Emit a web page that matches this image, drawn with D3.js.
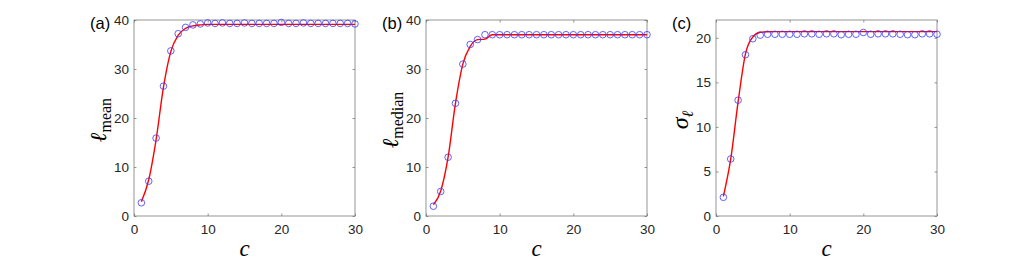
<!DOCTYPE html>
<html><head><meta charset="utf-8">
<script src="https://cdn.jsdelivr.net/npm/d3@7"></script>
<style>body{margin:0;background:#fff;}svg{display:block;}</style>
</head><body>
<script>
const cValues = d3.range(1, 31);
const meanObs = [2.7,7.1,15.9,26.5,33.7,37.2,38.5,39.0,39.2,39.4,39.3,39.4,39.3,39.3,39.4,39.3,39.3,39.3,39.3,39.5,39.3,39.3,39.4,39.3,39.3,39.3,39.3,39.3,39.3,39.2];
const meanFit = [2.9,7.4,15.6,26.3,33.6,36.9,38.3,38.8,39.0,39.1,39.1,39.1,39.1,39.1,39.1,39.1,39.1,39.1,39.1,39.1,39.1,39.1,39.1,39.1,39.1,39.1,39.1,39.1,39.1,39.1];
const medianObs = [2,5,12,23,31,35,36,37,37,37,37,37,37,37,37,37,37,37,37,37,37,37,37,37,37,37,37,37,37,37];
const medianFit = [2.3,5.1,12.0,23.0,31.0,34.6,36.0,36.1,37.0,37,37,37,37,37,37,37,37,37,37,37,37,37,37,37,37,37,37,37,37,37];
const sigmaObs = [2.1,6.4,13.0,18.1,19.9,20.3,20.4,20.4,20.4,20.4,20.4,20.45,20.45,20.4,20.45,20.45,20.35,20.4,20.4,20.6,20.4,20.45,20.45,20.45,20.4,20.35,20.35,20.45,20.45,20.4];
const sigmaFit = [2.2,6.4,12.8,18.2,20.1,20.62,20.68,20.7,20.7,20.7,20.7,20.7,20.7,20.7,20.7,20.7,20.7,20.7,20.7,20.7,20.7,20.7,20.7,20.7,20.7,20.7,20.7,20.7,20.7,20.7];
const xTicks = [0,10,20,30];
const yTicksA = [0,10,20,30,40];
const yTicksC = [0,5,10,15,20];

const W = 1035, H = 265;
const svg = d3.select("body").append("svg").attr("width", W).attr("height", H);

const panels = [
  {left:134, right:355, tag:"(a)", tagX:90, obs:meanObs, fit:meanFit, ymax:40, yTicks:yTicksA, sym:"ℓ", sub:"mean", labX:106, symSize:23},
  {left:426, right:647, tag:"(b)", tagX:382, obs:medianObs, fit:medianFit, ymax:40, yTicks:yTicksA, sym:"ℓ", sub:"median", labX:398, symSize:23},
  {left:716, right:937, tag:"(c)", tagX:672, obs:sigmaObs, fit:sigmaFit, ymax:22, yTicks:yTicksC, sym:"σ", sub:"ℓ", labX:688, symSize:24}
];
const plotTop = 20, plotBottom = 216;
const axCol = "#262626";
const serif = "Liberation Serif, DejaVu Serif, serif";
const sans = "Liberation Sans, Arial, sans-serif";

panels.forEach(p => {
  const x = d3.scaleLinear().domain([0,30]).range([p.left, p.right]);
  const y = d3.scaleLinear().domain([0,p.ymax]).range([plotBottom, plotTop]);
  const g = svg.append("g");
  g.append("rect").attr("x", p.left).attr("y", plotTop).attr("width", p.right-p.left).attr("height", plotBottom-plotTop)
    .attr("fill","none").attr("stroke","#7a7a7a").attr("stroke-width",0.8);
  const tl = 2.5;
  const axB = d3.axisBottom(x).tickValues(xTicks).tickSizeInner(-tl).tickSizeOuter(0).tickPadding(8);
  const axL = d3.axisLeft(y).tickValues(p.yTicks).tickSizeInner(-tl).tickSizeOuter(0).tickPadding(5);
  const axT = d3.axisTop(x).tickValues(xTicks).tickSizeInner(-tl).tickSizeOuter(0).tickFormat("");
  const axR = d3.axisRight(y).tickValues(p.yTicks).tickSizeInner(-tl).tickSizeOuter(0).tickFormat("");
  [[axB,`translate(0,${plotBottom})`],[axL,`translate(${p.left},0)`],[axT,`translate(0,${plotTop})`],[axR,`translate(${p.right},0)`]].forEach(([ax,tr])=>{
    const a = g.append("g").attr("transform", tr).call(ax);
    a.select(".domain").remove();
    a.selectAll("line").attr("stroke","#7a7a7a").attr("stroke-width",0.8);
    a.selectAll("text").attr("fill",axCol).style("font-family",sans).style("font-size","13.5px");
  });
  const line = d3.line().x((d,i)=>x(cValues[i])).y(d=>y(d)).curve(d3.curveMonotoneX);
  g.append("path").datum(p.fit).attr("d", line).attr("fill","none").attr("stroke","#ff0000").attr("stroke-width",1.4);
  g.selectAll("circle.m").data(p.obs).enter().append("circle")
    .attr("cx",(d,i)=>x(cValues[i])).attr("cy",d=>y(d)).attr("r",3.3)
    .attr("fill","none").attr("stroke","#3a3aff").attr("stroke-width",0.8);
  g.append("text").attr("x", p.tagX).attr("y", 29).text(p.tag)
    .style("font-family",sans).style("font-size","16.5px").attr("fill","#000");
  g.append("text").attr("x",(p.left+p.right)/2).attr("y",256).attr("text-anchor","middle")
    .style("font-family",serif).style("font-style","italic").style("font-size","23px").text("c");
  const cy = (plotTop+plotBottom)/2 + 2;
  const t = g.append("text").attr("transform",`translate(${p.labX},${cy}) rotate(-90)`).attr("text-anchor","middle")
    .style("font-family",serif);
  t.append("tspan").style("font-size",p.symSize+"px").style("font-style","italic").text(p.sym);
  t.append("tspan").attr("dy",5).style("font-size","16px").style("font-style", p.sub==="ℓ"?"italic":"normal").text(p.sub);
});
</script>
</body></html>
